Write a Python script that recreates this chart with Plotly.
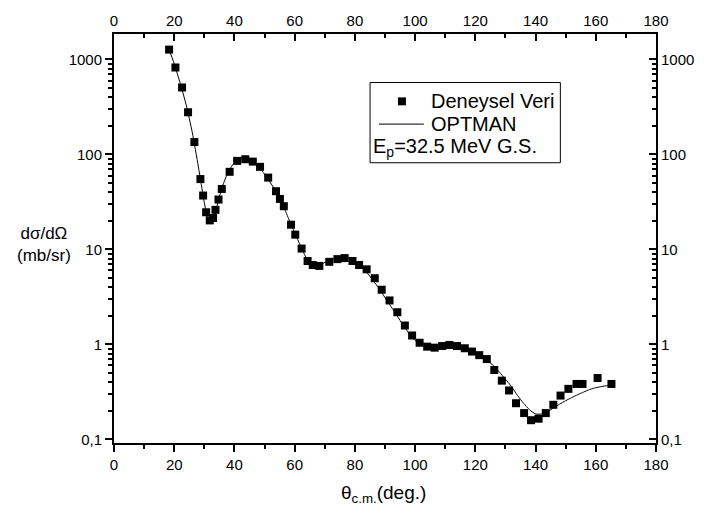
import plotly.graph_objects as go
import math

# Measured elastic angular distribution (c.m. angle in degrees, mb/sr)
exp_angle = [18.3, 20.4, 22.6, 24.6, 26.7, 28.7, 29.6, 30.6, 31.8, 32.9, 33.7, 34.7,
             35.8, 38.4, 40.9, 43.6, 46.1, 48.5, 51.2, 53.8, 55.1, 56.4, 58.8, 60.2,
             62.3, 64.3, 66.0, 68.2, 71.5, 74.2, 76.6, 79.2, 81.4, 83.9, 86.6, 88.9,
             91.5, 94.1, 96.6, 99.0, 101.5, 104.0, 106.5, 109.0, 111.4, 113.9, 116.5,
             118.9, 121.3, 123.8, 126.3, 128.8, 131.2, 133.5, 136.2, 138.5, 141.0,
             143.4, 145.9, 148.3, 150.9, 153.6, 155.6, 160.6, 165.2]
exp_xs = [1270, 823, 507, 278, 135, 55, 36.9, 24.6, 20.2, 21.4, 26.1, 33.5,
          43.3, 65.6, 85.5, 89, 84, 74, 57, 41, 34, 28.5, 18.2, 14.3,
          10.2, 7.55, 6.85, 6.7, 7.4, 7.9, 8.1, 7.55, 6.85, 6.17, 4.97, 3.76,
          2.9, 2.18, 1.58, 1.24, 1.04, 0.946, 0.923, 0.96, 0.986, 0.96, 0.91,
          0.84, 0.77, 0.70, 0.537, 0.415, 0.327, 0.24, 0.189, 0.159, 0.165,
          0.189, 0.231, 0.289, 0.34, 0.383, 0.383, 0.442, 0.383]

# OPTMAN optical-model calculation
calc_angle = [18, 20, 22, 24, 26, 28, 29, 30, 31, 32, 33, 34, 35, 36, 38, 40, 42, 44,
              46, 48, 50, 52, 54, 56, 58, 60, 62, 64, 66, 68, 70, 72, 74, 76, 78, 80,
              82, 84, 86, 88, 90, 92, 94, 96, 98, 100, 102, 104, 106, 108, 110, 112,
              114, 116, 118, 120, 122, 124, 126, 128, 130, 132, 134, 136, 138, 140,
              142, 144, 146, 148, 150, 152, 154, 156, 158, 160, 162, 164, 165.5]
calc_xs = [1350, 900, 560, 330, 170, 75, 48, 31, 22, 19.5, 21, 27, 36, 46, 66, 82, 90, 90,
           84, 74, 62, 50, 40, 30, 21, 15, 10.8, 8.0, 7.0, 6.9, 7.3, 7.8, 8.1, 8.2, 8.0, 7.4,
           6.6, 5.7, 4.7, 3.9, 3.1, 2.5, 2.0, 1.6, 1.3, 1.1, 1.0, 0.96, 0.95, 0.96, 0.97, 0.97,
           0.95, 0.91, 0.86, 0.80, 0.74, 0.67, 0.60, 0.51, 0.43, 0.36, 0.29, 0.24, 0.205, 0.185,
           0.185, 0.195, 0.215, 0.235, 0.255, 0.275, 0.295, 0.315, 0.335, 0.35, 0.36, 0.368, 0.37]

x_ticks = [0, 20, 40, 60, 80, 100, 120, 140, 160, 180]
y_tickvals = [0.1, 1, 10, 100, 1000]
y_ticktext = ["0,1", "1", "10", "100", "1000"]

W, H = 706, 517
L, R, T, B = 114, 48, 30, 74
PW, PH = W - L - R, H - T - B
FONT = "Liberation Sans, Arial, sans-serif"
y_range = [math.log10(0.0915), math.log10(1854)]


def px(xpix):
    return (xpix - L) / PW


def py(ypix):
    return (H - B - ypix) / PH


fig = go.Figure()
fig.add_trace(go.Scatter(x=calc_angle, y=calc_xs, mode="lines",
                         line=dict(color="black", width=1, shape="spline", smoothing=0.6),
                         showlegend=False, hoverinfo="skip"))
fig.add_trace(go.Scatter(x=exp_angle, y=exp_xs, mode="markers",
                         marker=dict(symbol="square", size=8, color="black"),
                         showlegend=False))
# carrier trace for the mirrored top/right axes
fig.add_trace(go.Scatter(x=[exp_angle[0]], y=[exp_xs[0]], xaxis="x2", yaxis="y2",
                         mode="markers", marker=dict(opacity=0), showlegend=False,
                         hoverinfo="skip"))

tickfont = dict(family=FONT, size=15, color="black")
common = dict(showgrid=False, zeroline=False, showline=True, linecolor="black",
              linewidth=2, tickcolor="black", tickwidth=1.5, ticklen=7, tickfont=tickfont)

fig.update_layout(
    width=W, height=H,
    margin=dict(l=L, r=R, t=T, b=B, pad=0),
    paper_bgcolor="white", plot_bgcolor="white",
    xaxis=dict(range=[0, 180], tickvals=x_ticks, ticks="outside",
               minor=dict(ticks="outside", dtick=10, ticklen=4, tickwidth=1.5,
                          tickcolor="black"),
               **common),
    xaxis2=dict(range=[0, 180], tickvals=x_ticks, ticks="inside", side="top",
                overlaying="x",
                minor=dict(ticks="inside", dtick=10, ticklen=4, tickwidth=1.5,
                           tickcolor="black"),
                **common),
    yaxis=dict(type="log", range=y_range, tickvals=y_tickvals, ticktext=y_ticktext,
               ticks="outside",
               minor=dict(ticks="outside", dtick="D1", ticklen=4, tickwidth=1.5,
                          tickcolor="black"),
               **common),
    yaxis2=dict(type="log", range=y_range, tickvals=y_tickvals, ticktext=y_ticktext,
                ticks="inside", side="right", overlaying="y",
                minor=dict(ticks="inside", dtick="D1", ticklen=4, tickwidth=1.5,
                           tickcolor="black"),
                **common),
)

# y-axis title, written horizontally at the left
fig.add_annotation(text="dσ/dΩ<br>(mb/sr)", xref="paper", yref="paper",
                   x=px(44), y=py(243), xanchor="center", yanchor="middle",
                   showarrow=False, align="center",
                   font=dict(family=FONT, size=17, color="black"))
# x-axis title
fig.add_annotation(text="θ<sub>c.m.</sub>(deg.)", xref="paper", yref="paper",
                   x=px(384), y=py(494), xanchor="center", yanchor="middle",
                   showarrow=False,
                   font=dict(family=FONT, size=19, color="black"))

# legend box
fig.add_shape(type="rect", xref="paper", yref="paper",
              x0=px(371), x1=px(562), y0=py(160), y1=py(79),
              line=dict(color="black", width=1), fillcolor="white", layer="above")
fig.add_shape(type="rect", xref="paper", yref="paper",
              x0=px(399), x1=px(407), y0=py(102), y1=py(94),
              line=dict(width=0), fillcolor="black", layer="above")
fig.add_shape(type="line", xref="paper", yref="paper",
              x0=px(380), x1=px(425), y0=py(121), y1=py(121),
              line=dict(color="black", width=1), layer="above")
legend_font = dict(family=FONT, size=20, color="black")
fig.add_annotation(text="Deneysel Veri", xref="paper", yref="paper",
                   x=px(430), y=py(98), xanchor="left", yanchor="middle",
                   showarrow=False, font=legend_font)
fig.add_annotation(text="OPTMAN", xref="paper", yref="paper",
                   x=px(430), y=py(121), xanchor="left", yanchor="middle",
                   showarrow=False, font=legend_font)
fig.add_annotation(text="E<sub>p</sub>=32.5 MeV G.S.", xref="paper", yref="paper",
                   x=px(372), y=py(145), xanchor="left", yanchor="middle",
                   showarrow=False, font=legend_font)

fig.write_html("out.html")
